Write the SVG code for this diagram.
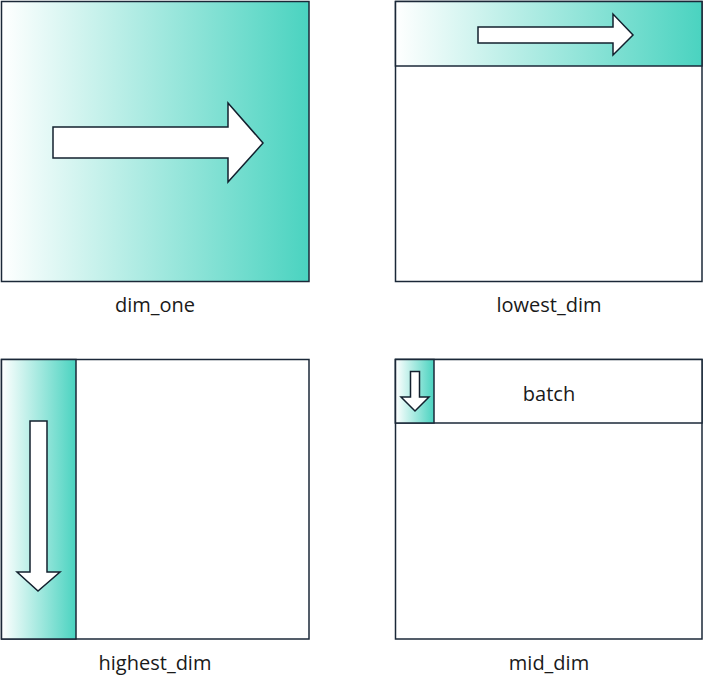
<svg xmlns="http://www.w3.org/2000/svg" width="704" height="684" viewBox="0 0 704 684">
<style>
.box{fill:#ffffff;stroke:#1b2838;stroke-width:1.5}
.band{stroke:#1b2838;stroke-width:1.5}
.arr{fill:#ffffff;stroke:#13202e;stroke-width:1.5;stroke-linejoin:miter}
.lbl{font-family:"Open Sans","Noto Sans",sans-serif;font-size:20px;fill:#1a1a1a;text-anchor:middle}
</style>
<defs>
<linearGradient id="g" x1="0" y1="0" x2="1" y2="0">
<stop offset="0" stop-color="#ffffff"/>
<stop offset="1" stop-color="#4ad3c0"/>
</linearGradient>
</defs>
<g id="dim_one">
<rect class="band" x="1.5" y="1.5" width="307.5" height="280" fill="url(#g)"/>
<polygon class="arr" points="53,127 228,127 228,103 263,143 228,182 228,158 53,158"/>
<text class="lbl" x="155" y="312">dim_one</text>
</g>
<g id="lowest_dim">
<rect class="box" x="395.5" y="1.5" width="306.5" height="280"/>
<rect class="band" x="395.5" y="1.5" width="306.5" height="64.5" fill="url(#g)"/>
<polygon class="arr" points="478,27 613,27 613,14 633,35 613,55 613,43 478,43"/>
<text class="lbl" x="549" y="312">lowest_dim</text>
</g>
<g id="highest_dim">
<rect class="box" x="1.5" y="359.5" width="307.5" height="279.5"/>
<rect class="band" x="1.5" y="359.5" width="74.5" height="279.5" fill="url(#g)"/>
<polygon class="arr" points="30,421 47,421 47,572 60,572 38,591 17,572 30,572"/>
<text class="lbl" x="155" y="670">highest_dim</text>
</g>
<g id="mid_dim">
<rect class="box" x="395.5" y="359.5" width="306.5" height="279.5"/>
<rect class="box" x="395.5" y="359.5" width="306.5" height="63.5"/>
<rect class="band" x="395.5" y="359.5" width="38.5" height="63.5" fill="url(#g)"/>
<polygon class="arr" points="410.5,371.5 419.5,371.5 419.5,397 429,397 415,411 401,397 410.5,397"/>
<text class="lbl" x="549" y="401">batch</text>
<text class="lbl" x="549" y="670">mid_dim</text>
</g>
<g id="connectors"/>
</svg>
